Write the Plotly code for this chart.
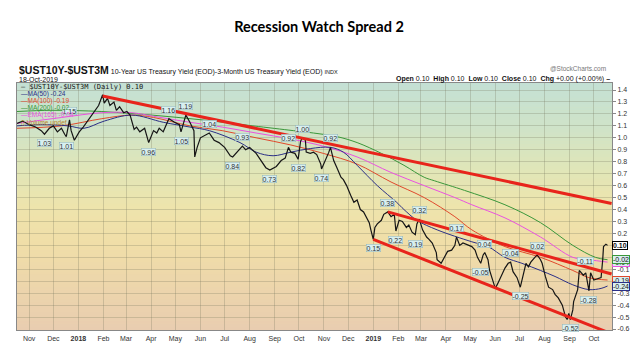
import plotly.graph_objects as go

# ---------------- data ----------------
spread_dates = [
    "2017-10-17", "2017-10-24", "2017-11-01", "2017-11-09", "2017-11-16", "2017-11-20", "2017-11-26",
    "2017-12-01", "2017-12-06", "2017-12-11", "2017-12-15", "2017-12-17", "2017-12-21", "2017-12-23",
    "2017-12-27", "2018-01-02", "2018-01-07", "2018-01-13", "2018-01-20", "2018-01-26", "2018-01-31",
    "2018-02-02", "2018-02-06", "2018-02-09", "2018-02-14", "2018-02-17", "2018-02-21", "2018-02-26",
    "2018-03-02", "2018-03-06", "2018-03-11", "2018-03-14", "2018-03-18", "2018-03-24", "2018-03-29",
    "2018-04-04", "2018-04-08", "2018-04-11", "2018-04-16", "2018-04-23", "2018-04-30", "2018-05-06",
    "2018-05-08", "2018-05-13", "2018-05-14", "2018-05-19", "2018-05-24", "2018-05-25", "2018-05-28",
    "2018-06-01", "2018-06-07", "2018-06-12", "2018-06-18", "2018-06-24", "2018-07-01", "2018-07-05",
    "2018-07-08", "2018-07-11", "2018-07-15", "2018-07-20", "2018-07-23", "2018-07-27", "2018-08-01",
    "2018-08-09", "2018-08-15", "2018-08-21", "2018-08-26", "2018-09-03", "2018-09-09", "2018-09-14",
    "2018-09-18", "2018-09-21", "2018-09-26", "2018-09-30", "2018-10-03", "2018-10-05", "2018-10-09",
    "2018-10-10", "2018-10-15", "2018-10-19", "2018-10-23", "2018-10-28", "2018-10-29", "2018-11-03",
    "2018-11-07", "2018-11-09", "2018-11-13", "2018-11-17", "2018-11-22", "2018-11-25", "2018-11-29",
    "2018-12-04", "2018-12-08", "2018-12-12", "2018-12-16", "2018-12-20", "2018-12-24", "2018-12-27",
    "2018-12-29", "2019-01-01", "2019-01-03", "2019-01-06", "2019-01-11", "2019-01-14", "2019-01-19",
    "2019-01-23", "2019-01-27", "2019-01-29", "2019-02-02", "2019-02-06", "2019-02-11", "2019-02-14",
    "2019-02-18", "2019-02-22", "2019-02-24", "2019-02-27", "2019-03-03", "2019-03-08", "2019-03-11",
    "2019-03-15", "2019-03-20", "2019-03-21", "2019-03-26", "2019-03-30", "2019-04-03", "2019-04-08",
    "2019-04-12", "2019-04-14", "2019-04-18", "2019-04-22", "2019-04-28", "2019-05-03", "2019-05-07",
    "2019-05-10", "2019-05-14", "2019-05-17", "2019-05-19", "2019-05-23", "2019-05-25", "2019-05-29",
    "2019-06-01", "2019-06-04", "2019-06-09", "2019-06-13", "2019-06-17", "2019-06-20", "2019-06-23",
    "2019-06-28", "2019-07-02", "2019-07-05", "2019-07-09", "2019-07-12", "2019-07-15", "2019-07-20",
    "2019-07-23", "2019-07-27", "2019-07-29", "2019-08-02", "2019-08-06", "2019-08-11", "2019-08-14",
    "2019-08-18", "2019-08-23", "2019-08-27", "2019-08-29", "2019-08-31", "2019-09-02", "2019-09-05",
    "2019-09-06", "2019-09-11", "2019-09-13", "2019-09-18", "2019-09-21", "2019-09-25", "2019-09-27",
    "2019-10-01", "2019-10-06", "2019-10-10", "2019-10-12", "2019-10-13", "2019-10-16", "2019-10-18",
]
spread = [
    1.12, 1.14, 1.11, 1.09, 1.06, 1.03, 1.08,
    1.10, 1.05, 1.08, 1.03, 1.01, 1.15, 1.06,
    0.98, 1.05, 1.09, 1.15, 1.22, 1.27, 1.36,
    1.29, 1.33, 1.27, 1.30, 1.23, 1.26, 1.21,
    1.22, 1.19, 1.07, 1.09, 1.05, 1.08, 0.96,
    1.06, 1.04, 1.08, 1.05, 1.16, 1.13, 1.11,
    1.05, 1.18, 1.19, 1.13, 1.06, 0.84, 0.92,
    1.00, 1.02, 1.04, 0.98, 0.96, 0.92, 0.88,
    0.85, 0.84, 0.87, 0.91, 0.93, 0.90, 0.92,
    0.87, 0.81, 0.75, 0.73, 0.76, 0.81, 0.83,
    0.92, 0.88, 0.87, 0.82, 0.97, 1.00, 0.98,
    0.88, 0.87, 0.88, 0.86, 0.78, 0.74, 0.81,
    0.88, 0.92, 0.81, 0.75, 0.67, 0.65, 0.60,
    0.52, 0.46, 0.48, 0.40, 0.38, 0.33, 0.29,
    0.23, 0.15, 0.25, 0.28, 0.31, 0.36, 0.38,
    0.34, 0.36, 0.22, 0.31, 0.30, 0.25, 0.27,
    0.21, 0.19, 0.28, 0.32, 0.23, 0.17, 0.15,
    0.12, 0.04, -0.02, -0.05, 0.00, 0.05, 0.06,
    0.10, 0.17, 0.10, 0.12, 0.10, 0.09, 0.06,
    0.00, -0.05, 0.02, 0.04, -0.02, -0.11, -0.19,
    -0.26, -0.22, -0.15, -0.09, -0.05, -0.04, -0.12,
    -0.17, -0.25, -0.16, -0.05, -0.08, -0.04, 0.00,
    0.02, -0.02, -0.05, -0.16, -0.25, -0.27, -0.31,
    -0.34, -0.40, -0.50, -0.52, -0.47, -0.52, -0.44,
    -0.37, -0.27, -0.11, -0.15, -0.13, -0.28, -0.13,
    -0.19, -0.18, -0.17, -0.02, 0.09, 0.11, 0.10,
]

ma50_dates = ["2017-10-17", "2017-11-16", "2017-12-19", "2018-01-08", "2018-02-02", "2018-03-08",
              "2018-04-16", "2018-05-19", "2018-06-12", "2018-07-20", "2018-08-09", "2018-08-30",
              "2018-09-21", "2018-10-15", "2018-11-09", "2018-11-25", "2018-12-12", "2019-01-06",
              "2019-01-30", "2019-02-08", "2019-02-24", "2019-03-21", "2019-05-03", "2019-05-23",
              "2019-06-13", "2019-07-04", "2019-07-27", "2019-08-14", "2019-09-05", "2019-09-25",
              "2019-10-10", "2019-10-18"]
ma50 = [1.10, 1.11, 1.10, 1.08, 1.14, 1.19, 1.13, 1.09, 1.06, 0.96, 0.88, 0.85, 0.88, 0.91, 0.92,
        0.88, 0.77, 0.60, 0.46, 0.40, 0.31, 0.23, 0.13, 0.09, 0.00, -0.05, -0.11, -0.16, -0.23,
        -0.27, -0.26, -0.24]

ma_dates = ["2017-10-17", "2017-12-11", "2018-01-30", "2018-03-08", "2018-04-04", "2018-05-19",
            "2018-06-28", "2018-08-09", "2018-09-21", "2018-10-31", "2018-12-12", "2019-01-23",
            "2019-03-05", "2019-04-12", "2019-05-03", "2019-06-13", "2019-07-27", "2019-09-05",
            "2019-09-25", "2019-10-18"]
ma100 = [1.08, 1.10, 1.16, 1.19, 1.17, 1.10, 1.06, 1.00, 0.94, 0.87, 0.78, 0.63,
         0.50, 0.34, 0.23, 0.09, 0.00, -0.11, -0.17, -0.19]
ema165 = [1.12, 1.17, 1.21, 1.21, 1.18, 1.13, 1.09, 1.04, 0.99, 0.93, 0.84, 0.71,
          0.60, 0.50, 0.44, 0.33, 0.17, 0.00, -0.02, -0.04]

ma200_dates = ["2017-10-17", "2017-11-28", "2018-01-30", "2018-04-02", "2018-06-03", "2018-08-05",
               "2018-09-24", "2018-10-19", "2018-11-17", "2018-12-12", "2019-01-11", "2019-02-08",
               "2019-03-05", "2019-03-18", "2019-04-24", "2019-06-13", "2019-07-27", "2019-09-05",
               "2019-10-03", "2019-10-18"]
ma200 = [1.22, 1.23, 1.22, 1.19, 1.15, 1.10, 1.06, 1.04, 1.01, 0.96, 0.87, 0.77,
         0.67, 0.64, 0.56, 0.44, 0.29, 0.10, 0.00, -0.02]

trend_long_dates = ["2018-01-31", "2019-10-23"]
trend_long = [1.35, 0.45]
chan_top_dates = ["2019-01-19", "2019-10-23"]
chan_top = [0.38, -0.14]
chan_bot_dates = ["2019-01-01", "2019-10-23"]
chan_bot = [0.15, -0.64]

label_dates = ["2017-11-20", "2017-12-17", "2017-12-21", "2018-03-29", "2018-04-23", "2018-05-08",
               "2018-05-14", "2018-06-12", "2018-07-11", "2018-07-23", "2018-08-26", "2018-09-18",
               "2018-10-05", "2018-09-30", "2018-10-29", "2018-11-09", "2019-01-19", "2019-01-01",
               "2019-01-29", "2019-02-27", "2019-02-22", "2019-04-14", "2019-05-19", "2019-05-14",
               "2019-06-20", "2019-07-02", "2019-07-23", "2019-09-02", "2019-09-21", "2019-09-25"]
label_vals = [1.03, 1.01, 1.15, 0.96, 1.16, 1.05, 1.19, 1.04, 0.84, 0.93, 0.73, 0.92, 1.00, 0.82,
              0.74, 0.92, 0.38, 0.15, 0.22, 0.32, 0.19, 0.17, 0.04, -0.05, -0.04, -0.25, 0.02,
              -0.52, -0.11, -0.28]
label_up = [False, False, True, False, True, False, True, True, False, True, False, True, True, False,
            False, True, True, False, False, True, False, True, True, False, True, False, True,
            False, True, False]

month_ticks = ["2017-11-01", "2017-12-01", "2018-01-01", "2018-02-01", "2018-03-01", "2018-04-01",
               "2018-05-01", "2018-06-01", "2018-07-01", "2018-08-01", "2018-09-01", "2018-10-01",
               "2018-11-01", "2018-12-01", "2019-01-01", "2019-02-01", "2019-03-01", "2019-04-01",
               "2019-05-01", "2019-06-01", "2019-07-01", "2019-08-01", "2019-09-01", "2019-10-01"]
month_labels = ["Nov", "Dec", "<b>2018</b>", "Feb", "Mar", "Apr", "May", "Jun", "Jul", "Aug", "Sep", "Oct",
                "Nov", "Dec", "<b>2019</b>", "Feb", "Mar", "Apr", "May", "Jun", "Jul", "Aug", "Sep", "Oct"]
y_ticks = [round(-0.6 + 0.1 * i, 1) for i in range(21)]
# labels at 0.1, 0.0 and -0.2 sit under the value boxes in the reference
hidden_ticks = [0.1, 0.0, -0.2]
y_labels = ["" if v in hidden_ticks else "%.1f" % v for v in y_ticks]

# ---------------- styling ----------------
C_BLACK = "#151515"
C_MA50 = "#2b2f86"
C_MA100 = "#e0492c"
C_MA200 = "#3a973a"
C_EMA = "#ea52e0"
C_TREND = "#e8241b"
FONT = "Liberation Sans"

fig = go.Figure()

# gradient background
stops = [(0.0, (233, 205, 176)), (0.15, (236, 212, 172)), (0.35, (240, 222, 168)),
         (0.5, (238, 228, 172)), (0.65, (224, 230, 184)), (0.82, (207, 227, 200)),
         (1.0, (196, 224, 212))]
N = 80
for i in range(N):
    f = (i + 0.5) / N
    for j in range(len(stops) - 1):
        if stops[j][0] <= f <= stops[j + 1][0]:
            t = (f - stops[j][0]) / (stops[j + 1][0] - stops[j][0])
            c = [round(stops[j][1][k] + t * (stops[j + 1][1][k] - stops[j][1][k])) for k in range(3)]
            break
    fig.add_shape(type="rect", xref="x domain", yref="y domain", x0=0, x1=1,
                  y0=i / N, y1=(i + 1) / N + 0.002, layer="below", line_width=0,
                  fillcolor="rgb(%d,%d,%d)" % tuple(c))

def line(x, y, color, width, shape="spline"):
    fig.add_trace(go.Scatter(x=x, y=y, mode="lines", line=dict(color=color, width=width, shape=shape),
                             hoverinfo="skip", showlegend=False))

line(ma200_dates, ma200, C_MA200, 1)
line(ma_dates, ema165, C_EMA, 1)
line(ma_dates, ma100, C_MA100, 1)
line(ma50_dates, ma50, C_MA50, 1)
line(spread_dates, spread, C_BLACK, 1.2, "linear")
line(trend_long_dates, trend_long, C_TREND, 3, "linear")
line(chan_top_dates, chan_top, C_TREND, 3, "linear")
line(chan_bot_dates, chan_bot, C_TREND, 3, "linear")

# peak / trough labels
for d, v, up in zip(label_dates, label_vals, label_up):
    fig.add_annotation(x=d, y=v, xref="x", yref="y", text="%.2f" % v, showarrow=False,
                       yshift=9 if up else -9, font=dict(family=FONT, size=7, color="#333"),
                       bgcolor="#d8eff0", bordercolor="#8fb3b8", borderwidth=0.5, borderpad=0)

# right-side value boxes
right_boxes = [(ema165[-1], C_EMA, "#d8eff0", False), (ma200[-1], C_MA200, "#d8eff0", False),
               (ma100[-1], C_MA100, "#d8eff0", False), (ma50[-1], C_MA50, "#d8eff0", False),
               (spread[-1], "#000000", "#ffffff", True)]
for v, bc, bg, bold in right_boxes:
    txt = "%.2f" % v
    fig.add_annotation(x=1, y=v, xref="paper", yref="y", xanchor="left", showarrow=False,
                       text="<b>%s</b>" % txt if bold else txt,
                       font=dict(family=FONT, size=7, color="#111"),
                       bgcolor=bg, bordercolor=bc, borderwidth=1, borderpad=0)

# in-plot legend
legend_rows = [
    ("— $UST10Y-$UST3M (Daily) %.2f" % spread[-1], C_BLACK, "DejaVu Sans Mono", 7),
    ("—MA(50) %.2f" % ma50[-1], C_MA50, FONT, 6.5),
    ("—MA(100) %.2f" % ma100[-1], C_MA100, FONT, 6.5),
    ("—MA(200) %.2f" % ma200[-1], C_MA200, FONT, 6.5),
    ("—EMA(165) %.2f" % ema165[-1], C_EMA, FONT, 6.5),
    ("▯ Volume undef", "#b8842a", FONT, 6.5),
]
for i, (t, c, fam, sz) in enumerate(legend_rows):
    fig.add_annotation(x=0.004, y=0.984 - i * 0.0285, xref="paper", yref="paper", xanchor="left",
                       yanchor="middle", showarrow=False, text=t, font=dict(family=fam, size=sz, color=c))

# header texts
fig.add_annotation(x=0, y=1.053, xref="paper", yref="paper", xanchor="left", yanchor="middle",
                   showarrow=False,
                   text="<b><span style='font-size:10.5px'>$UST10Y-$UST3M</span></b> "
                        "10-Year US Treasury Yield (EOD)-3-Month US Treasury Yield (EOD) "
                        "<span style='font-size:5.5px'>INDX</span>",
                   font=dict(family=FONT, size=7, color="#111"))
fig.add_annotation(x=0, y=1.016, xref="paper", yref="paper", xanchor="left", yanchor="middle",
                   showarrow=False, text="18-Oct-2019", font=dict(family=FONT, size=7, color="#111"))
fig.add_annotation(x=0.993, y=1.057, xref="paper", yref="paper", xanchor="right", yanchor="middle",
                   showarrow=False, text="@StockCharts.com", font=dict(family=FONT, size=6.5, color="#777"))
fig.add_annotation(x=1.0, y=1.016, xref="paper", yref="paper", xanchor="right", yanchor="middle",
                   showarrow=False,
                   text="<b>Open</b> 0.10  <b>High</b> 0.10  <b>Low</b> 0.10  <b>Close</b> 0.10  "
                        "<b>Chg</b> +0.00 (+0.00%) <b>–</b>",
                   font=dict(family=FONT, size=7, color="#111"))

# the page body adds an 8px offset, so the figure is 8px smaller on each axis
fig.update_layout(
    width=630, height=350,
    margin=dict(l=8, r=24, t=75, b=28),
    paper_bgcolor="white", plot_bgcolor="#eee3ad",
    title=dict(text="<b>Recession Watch Spread 2</b>", x=(319 - 8) / 630, xanchor="center",
               y=1 - 19 / 350, yanchor="middle",
               font=dict(family="Lato", size=14.5, color="#000")),
    showlegend=False,
    xaxis=dict(type="date", range=["2017-10-17", "2019-10-23 12:00"], tickvals=month_ticks,
               ticktext=month_labels, showgrid=True, gridcolor="rgba(120,120,95,0.28)", gridwidth=1,
               tickfont=dict(family=FONT, size=7, color="#333"), ticks="", showline=True,
               linecolor="#888", mirror=True, zeroline=False, ticklabelstandoff=2),
    yaxis=dict(side="right", range=[-0.608, 1.4586], tickvals=y_ticks, ticktext=y_labels,
               showgrid=True, gridcolor="rgba(120,120,95,0.28)", gridwidth=1,
               tickfont=dict(family=FONT, size=7, color="#333"), ticks="outside", ticklen=3,
               tickcolor="#888", showline=True, linecolor="#888", mirror=True, zeroline=False),
)

fig.write_html("out.html")
